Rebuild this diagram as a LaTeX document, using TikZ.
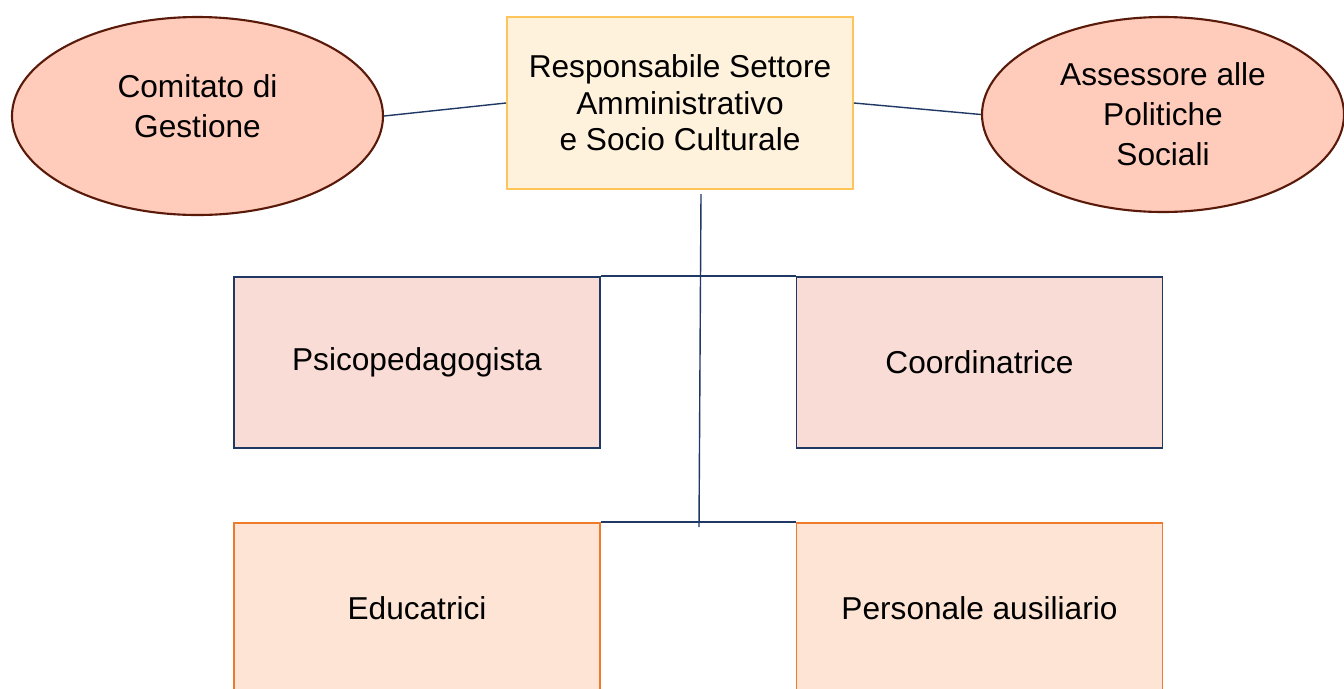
\documentclass[tikz,border=0pt]{standalone}
\usepackage{fontspec}
\setmainfont{Liberation Sans}
\usetikzlibrary{shapes.geometric}

\definecolor{headfill}{HTML}{FFF2DC}
\definecolor{headline}{HTML}{FFC55A}
\definecolor{ovalfill}{HTML}{FFCBBB}
\definecolor{ovalline}{HTML}{5A1A0A}
\definecolor{midfill}{HTML}{F8DCD5}
\definecolor{navyline}{HTML}{1F3864}
\definecolor{lowfill}{HTML}{FDE4D4}
\definecolor{lowline}{HTML}{EE7A2C}

\tikzset{
  headbox/.style={draw=headline, fill=headfill, line width=1.1pt, minimum width=6.92cm, minimum height=3.44cm, align=center, font=\fontsize{18pt}{20.8pt}\selectfont},
  oval/.style={ellipse, draw=ovalline, fill=ovalfill, line width=1.2pt, inner sep=0pt, align=center, font=\fontsize{18pt}{22.8pt}\selectfont},
  ovaltext/.style={align=center, font=\fontsize{18pt}{22.8pt}\selectfont},
  midbox/.style={draw=navyline, fill=midfill, line width=1.1pt, minimum width=7.32cm, minimum height=3.42cm, font=\fontsize{18pt}{21pt}\selectfont},
  lowbox/.style={draw=lowline, fill=lowfill, line width=1.1pt, minimum width=7.32cm, minimum height=3.42cm, font=\fontsize{18pt}{21pt}\selectfont},
  link/.style={navyline, line width=0.8pt}
}

\begin{document}
\begin{tikzpicture}

    % Page frame (1344 x 688 px)
    \useasboundingbox (0,0) rectangle (26.88,-13.76);

    % Top row
    \node[headbox] (resp) at (13.6,-2.06) {Responsabile Settore\\Amministrativo\\e Socio Culturale};
    \node[oval, minimum width=7.42cm, minimum height=3.96cm,
          label={[ovaltext, yshift=0.19cm]center:Comitato di\\Gestione}] (comitato) at (3.95,-2.32) {};
    \node[oval, minimum width=7.24cm, minimum height=3.9cm] (assessore) at (23.26,-2.29) {Assessore alle\\Politiche\\Sociali};

    % Middle row
    \node[midbox] (psico) at (8.34,-7.25) {Psicopedagogista};
    \node[midbox] (coord) at (19.59,-7.25) {Coordinatrice};

    % Bottom row (cut by the page edge)
    \node[lowbox] (edu) at (8.34,-12.17) {Educatrici};
    \node[lowbox] (pers) at (19.59,-12.17) {Personale ausiliario};

    % Trunk ends
    \coordinate (trunktop) at (14.02,-3.88);
    \coordinate (trunkend) at (13.98,-10.54);

    % Connectors
    \draw[link] (comitato.east) -- (resp.west);
    \draw[link] (resp.east) -- (assessore.west);
    \draw[link] (trunktop) -- (trunkend);
    \draw[link] (psico.north east) -- (coord.north west);
    \draw[link] (edu.north east) -- (pers.north west);

\end{tikzpicture}
\end{document}
